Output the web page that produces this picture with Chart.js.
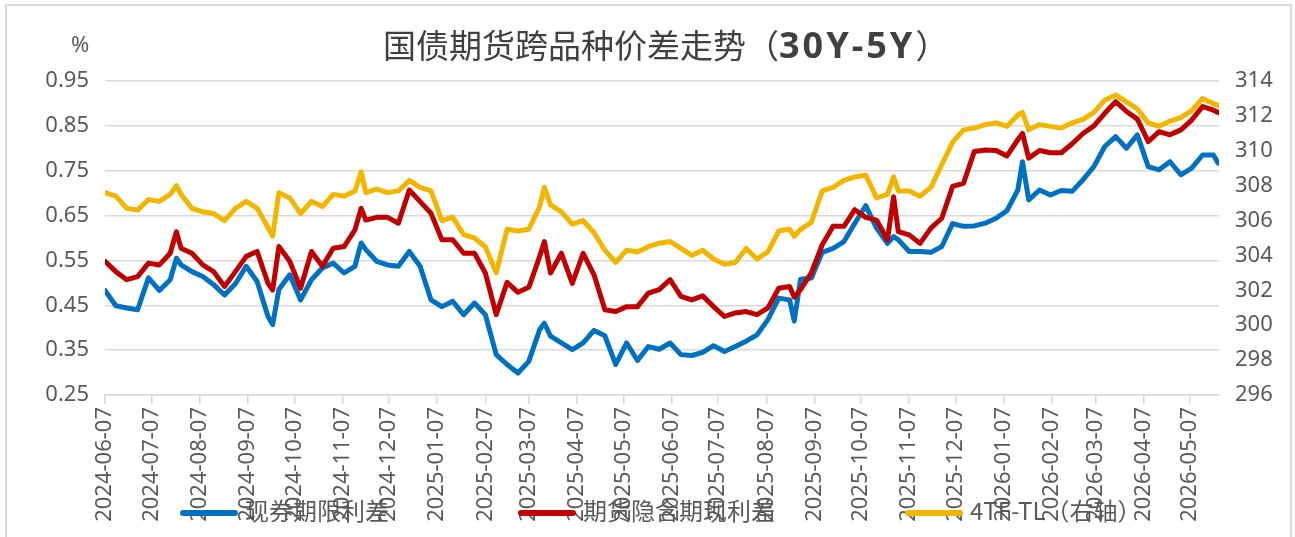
<!DOCTYPE html>
<html>
<head>
<meta charset="utf-8">
<script src="https://cdn.jsdelivr.net/npm/chart.js@4.4.1/dist/chart.umd.min.js"></script>
<style>
  body { margin: 0; background: #fff; }
  #wrap { position: relative; width: 1295px; height: 537px; overflow: hidden; }
  #frame { position: absolute; left: 5px; top: 4px; width: 1283px; height: 560px; border: 2px solid #d9d9d9; }
  #chart { position: absolute; left: 0; top: 0; }
  #title { position: absolute; left: 383px; top: 22px; font-family: "Noto Sans CJK SC", sans-serif; font-size: 33px; line-height: 44px; color: #404040; white-space: nowrap; }
  #title b { font-family: "Noto Sans", sans-serif; font-weight: 700; font-size: 36px; letter-spacing: 3px; }
  #unit { position: absolute; left: 71px; top: 28px; font-family: "Noto Sans", sans-serif; font-size: 22px; color: #595959; }
  .leg { position: absolute; top: 495px; font-family: "Noto Sans CJK SC", sans-serif; font-size: 24px; line-height: 30px; color: #595959; white-space: nowrap; }
  .leg i { display: inline-block; width: 58px; height: 6px; border-radius: 3px; vertical-align: middle; margin-right: 7px; }
</style>
</head>
<body>
<div id="wrap">
  <div id="frame"></div>
  <canvas id="chart" width="1295" height="537"></canvas>
  <div id="title">国债期货跨品种价差走势（<b>30Y-5Y</b>）</div>
  <div id="unit">%</div>
  <div class="leg" style="left:180px"><i style="background:#0070C0"></i>现券期限利差</div>
  <div class="leg" style="left:518px"><i style="background:#C00000"></i>期货隐含期现利差</div>
  <div class="leg" style="left:905px"><i style="background:#F2B600"></i>4TF-TL（右轴）</div>
</div>
<script>
// sample dates: weekly, plus a few days where a spike shows
const dates = [
  "2024-06-07","2024-06-14","2024-06-21","2024-06-28","2024-07-05","2024-07-12","2024-07-19","2024-07-23",
  "2024-07-26","2024-08-02","2024-08-09","2024-08-16","2024-08-23","2024-08-30","2024-09-06","2024-09-13","2024-09-20","2024-09-23",
  "2024-09-27","2024-10-04","2024-10-11","2024-10-18","2024-10-25","2024-11-01","2024-11-08","2024-11-15","2024-11-19",
  "2024-11-22","2024-11-29","2024-12-06","2024-12-13","2024-12-20","2024-12-27","2025-01-03","2025-01-10",
  "2025-01-17","2025-01-24","2025-01-31","2025-02-07","2025-02-14","2025-02-21","2025-02-28","2025-03-07","2025-03-14","2025-03-17",
  "2025-03-21","2025-03-28","2025-04-04","2025-04-11","2025-04-18","2025-04-25","2025-05-02","2025-05-09",
  "2025-05-16","2025-05-23","2025-05-30","2025-06-06","2025-06-13","2025-06-20","2025-06-27","2025-07-04",
  "2025-07-11","2025-07-18","2025-07-25","2025-08-01","2025-08-08","2025-08-15","2025-08-22","2025-08-25",
  "2025-08-29","2025-09-05","2025-09-12","2025-09-19","2025-09-26","2025-10-03","2025-10-10","2025-10-17","2025-10-24","2025-10-28",
  "2025-10-31","2025-11-07","2025-11-14","2025-11-21","2025-11-28","2025-12-05","2025-12-12","2025-12-19",
  "2025-12-26","2026-01-02","2026-01-09","2026-01-16","2026-01-19",
  "2026-01-23","2026-01-30","2026-02-06","2026-02-13","2026-02-20","2026-02-27","2026-03-06","2026-03-13",
  "2026-03-20","2026-03-27","2026-04-03","2026-04-10","2026-04-17","2026-04-24","2026-05-01","2026-05-08",
  "2026-05-15","2026-05-22","2026-05-25"
];

// 现券期限利差 (%)
const spotSpread = [
  0.483,0.449,0.444,0.440,0.511,0.483,0.507,0.555,
  0.540,0.525,0.514,0.496,0.473,0.498,0.537,0.503,0.425,0.407,
  0.485,0.518,0.462,0.507,0.533,0.544,0.522,0.537,0.589,
  0.574,0.548,0.540,0.537,0.570,0.537,0.462,0.447,
  0.459,0.429,0.455,0.429,0.340,0.318,0.299,0.325,0.396,0.410,
  0.381,0.366,0.351,0.366,0.394,0.382,0.318,0.366,
  0.327,0.358,0.352,0.366,0.340,0.338,0.345,0.360,
  0.347,0.358,0.370,0.384,0.418,0.466,0.462,0.415,
  0.508,0.511,0.568,0.577,0.592,0.633,0.672,0.622,0.588,0.603,
  0.596,0.570,0.570,0.568,0.581,0.632,0.626,0.627,
  0.633,0.644,0.661,0.707,0.770,
  0.685,0.707,0.696,0.706,0.704,0.730,0.759,0.804,
  0.826,0.800,0.830,0.759,0.752,0.770,0.741,0.756,
  0.785,0.785,0.767
];

// 期货隐含期现利差 (%)
const futSpread = [
  0.548,0.525,0.507,0.514,0.544,0.540,0.566,0.614,
  0.577,0.566,0.540,0.525,0.492,0.525,0.559,0.570,0.499,0.484,
  0.581,0.548,0.488,0.570,0.537,0.577,0.581,0.618,0.666,
  0.640,0.646,0.646,0.633,0.707,0.681,0.655,0.596,
  0.596,0.566,0.566,0.522,0.429,0.501,0.479,0.490,0.559,0.592,
  0.522,0.566,0.499,0.566,0.518,0.440,0.436,0.447,
  0.447,0.477,0.485,0.507,0.470,0.462,0.471,0.447,
  0.425,0.433,0.436,0.429,0.444,0.488,0.492,0.468,
  0.485,0.522,0.585,0.626,0.626,0.663,0.646,0.640,0.596,0.692,
  0.614,0.607,0.588,0.622,0.644,0.715,0.722,0.793,
  0.796,0.795,0.783,0.819,0.833,
  0.778,0.795,0.790,0.790,0.810,0.833,0.850,0.878,
  0.904,0.882,0.865,0.815,0.837,0.830,0.841,0.863,
  0.893,0.885,0.880
];

// 4TF-TL (right axis)
const tfTl = [
  307.6,307.4,306.7,306.6,307.2,307.1,307.5,308.0,
  307.5,306.7,306.5,306.4,306.0,306.7,307.1,306.7,305.6,305.1,
  307.6,307.3,306.4,307.1,306.8,307.5,307.4,307.7,308.8,
  307.6,307.8,307.6,307.7,308.3,307.9,307.7,306.0,
  306.2,305.2,305.0,304.5,303.0,305.5,305.4,305.5,306.8,307.9,
  306.9,306.5,305.8,306.0,305.3,304.3,303.6,304.3,
  304.2,304.5,304.7,304.8,304.4,304.0,304.3,303.8,
  303.5,303.6,304.4,303.8,304.2,305.4,305.5,305.1,
  305.5,305.9,307.7,307.9,308.3,308.5,308.6,307.3,307.5,308.5,
  307.7,307.7,307.4,307.9,309.2,310.5,311.2,311.3,
  311.5,311.6,311.4,312.05,312.2,
  311.2,311.5,311.4,311.3,311.6,311.8,312.2,312.9,
  313.2,312.8,312.4,311.6,311.4,311.7,311.9,312.3,
  313.0,312.7,312.6
];

const xTickLabels = [
  "2024-06-07","2024-07-07","2024-08-07","2024-09-07","2024-10-07","2024-11-07","2024-12-07","2025-01-07",
  "2025-02-07","2025-03-07","2025-04-07","2025-05-07","2025-06-07","2025-07-07","2025-08-07","2025-09-07",
  "2025-10-07","2025-11-07","2025-12-07","2026-01-07","2026-02-07","2026-03-07","2026-04-07","2026-05-07"
];
const leftTicks = [0.25, 0.35, 0.45, 0.55, 0.65, 0.75, 0.85, 0.95];
const rightTicks = [296, 298, 300, 302, 304, 306, 308, 310, 312, 314];
const axisStart = "2024-06-07";
const axisEnd = "2026-05-25T14:00:00Z";

Chart.defaults.font.family = '"Noto Sans", "Noto Sans CJK SC", sans-serif';

const asPoints = (vals) => vals.map((v, i) => ({ x: Date.parse(dates[i]), y: v }));
const labelFont = { size: 22 };
const grey = "#d9d9d9";

new Chart(document.getElementById("chart"), {
  type: "line",
  data: {
    datasets: [
      { label: "现券期限利差", data: asPoints(spotSpread), borderColor: "#0070C0", yAxisID: "y", order: 3 },
      { label: "期货隐含期现利差", data: asPoints(futSpread), borderColor: "#C00000", yAxisID: "y", order: 2 },
      { label: "4TF-TL（右轴）", data: asPoints(tfTl), borderColor: "#F2B600", yAxisID: "y2", order: 1 }
    ]
  },
  options: {
    responsive: false,
    animation: false,
    devicePixelRatio: 1,
    layout: { padding: { top: 81, left: 0, right: 0, bottom: 0 } },
    elements: {
      point: { radius: 0 },
      line: { borderWidth: 5, tension: 0, borderJoinStyle: "round", borderCapStyle: "round" }
    },
    plugins: { legend: { display: false }, title: { display: false }, tooltip: { enabled: false } },
    scales: {
      x: {
        type: "linear",
        min: Date.parse(axisStart),
        max: Date.parse(axisEnd),
        afterBuildTicks: (s) => { s.ticks = xTickLabels.map((d) => ({ value: Date.parse(d) })); },
        afterFit: (s) => { s.height = 142; },
        grid: { drawOnChartArea: false, color: grey, lineWidth: 1.5, tickLength: 9 },
        border: { color: grey, width: 1.5 },
        ticks: {
          autoSkip: false, minRotation: 90, maxRotation: 90, padding: 3,
          color: "#595959", font: labelFont,
          callback: (v) => new Date(v).toISOString().slice(0, 10)
        }
      },
      y: {
        position: "left",
        min: 0.25, max: 0.95,
        afterBuildTicks: (s) => { s.ticks = leftTicks.map((v) => ({ value: v })); },
        afterFit: (s) => { s.width = 105; },
        grid: { color: grey, lineWidth: 1.5, drawTicks: false },
        border: { display: false },
        ticks: { color: "#595959", font: labelFont, padding: 16, callback: (v) => v.toFixed(2) }
      },
      y2: {
        position: "right",
        min: 296, max: 314,
        afterBuildTicks: (s) => { s.ticks = rightTicks.map((v) => ({ value: v })); },
        afterFit: (s) => { s.width = 76; },
        grid: { drawOnChartArea: false, drawTicks: false },
        border: { display: false },
        ticks: { color: "#595959", font: labelFont, padding: 16, callback: (v) => String(v) }
      }
    }
  }
});
</script>
</body>
</html>
